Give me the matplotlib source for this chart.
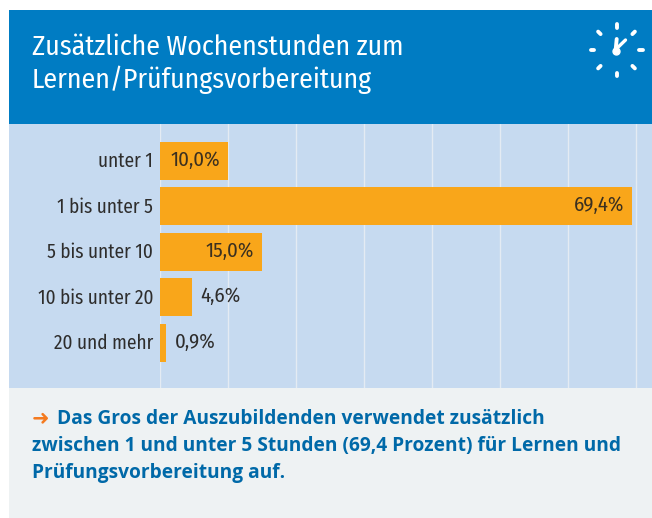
import matplotlib
matplotlib.use("Agg")
import matplotlib.pyplot as plt
from matplotlib.patches import Rectangle
from matplotlib.transforms import ScaledTranslation
from matplotlib import font_manager as fm
import numpy as np

categories = ["unter 1", "1 bis unter 5", "5 bis unter 10", "10 bis unter 20", "20 und mehr"]
values = [10.0, 69.4, 15.0, 4.6, 0.9]
value_labels = ["10,0%", "69,4%", "15,0%", "4,6%", "0,9%"]
title_lines = ["Zusätzliche Wochenstunden zum", "Lernen/Prüfungsvorbereitung"]
note_lines = ["Das Gros der Auszubildenden verwendet zusätzlich",
              "zwischen 1 und unter 5 Stunden (69,4 Prozent) für Lernen und",
              "Prüfungsvorbereitung auf."]

names = {f.name for f in fm.fontManager.ttflist}
narrow = next((n for n in ["Fira Sans Condensed", "Open Sans Condensed", "Roboto Condensed",
                           "Encode Sans Condensed", "Asap Condensed", "Liberation Sans"] if n in names), "Liberation Sans")

W, H = 652, 518
fig = plt.figure(figsize=(W/100, H/100), dpi=100, facecolor="white")
def fx(x): return x / W
def fy(y): return 1 - y / H
def band(y0, y1, c):
    fig.add_artist(Rectangle((fx(9), fy(y1)), 1 - fx(9), (y1 - y0) / H, transform=fig.transFigure, fc=c, ec="none", zorder=0))
band(10, 124, "#007CC3")
band(124, 388, "#C6DAF0")
band(388, 518, "#EEF2F3")

ax = fig.add_axes([fx(160), fy(388), (W - 160) / W, 264 / H])
ax.patch.set_alpha(0)
ax.set_xlim(-0.05, 72.3)
ax.set_ylim(4.99, -0.813)
ax.set_xticks(np.arange(0, 71, 10))
ax.set_xticklabels([])
ax.grid(axis="x", color="#E4EBF3", lw=1.0)
ax.set_axisbelow(True)
ax.tick_params(length=0)
for s in ax.spines.values():
    s.set_visible(False)
y = np.arange(len(values))
ax.barh(y, values, height=0.835, color="#F9A61A")
ax.set_yticks(y)
ax.set_yticklabels(categories, fontsize=13.9, family=narrow, color="#2E2D2C")
ax.tick_params(axis="y", pad=5)
shift = ScaledTranslation(0, 1.5 / 100, fig.dpi_scale_trans)
for lab in ax.get_yticklabels():
    lab.set_transform(lab.get_transform() + shift)
for i, (v, l) in enumerate(zip(values, value_labels)):
    if v > 8:
        ax.annotate(l, (v, i), xytext=(-6, 0.7), textcoords="offset points", ha="right", va="center",
                    fontsize=15, family=narrow, color="#3B3020")
    else:
        ax.annotate(l, (v, i), xytext=(6, 0.7), textcoords="offset points", ha="left", va="center",
                    fontsize=15, family=narrow, color="#2E2D2C")

for t, yy in zip(title_lines, [47, 79.5]):
    fig.text(fx(32), fy(yy), t, fontsize=20, family=narrow, weight="normal", color="white", va="center", ha="left")

for t, xx, yy in zip(note_lines, [57, 32, 32], [419, 446, 473]):
    fig.text(fx(xx), fy(yy), t, fontsize=13.75, family="Open Sans", weight="bold", color="#0069A8", va="center", ha="left")
fig.text(fx(32), fy(418), "\u279c", fontsize=15, family="DejaVu Sans", weight="bold", color="#F47B20", va="center", ha="left")

# clock icon
ov = fig.add_axes([0, 0, 1, 1])
ov.set_xlim(0, W); ov.set_ylim(H, 0); ov.axis("off"); ov.patch.set_alpha(0)
cx, cy = 616.5, 50
for a in np.arange(0, 360, 45):
    r = np.deg2rad(a)
    ov.plot([cx + 22.5*np.sin(r), cx + 26*np.sin(r)], [cy - 22.5*np.cos(r), cy - 26*np.cos(r)],
            color="white", lw=2.8, solid_capstyle="round")
ov.plot([cx - 0.8, cx + 0.2], [cy - 0.5, cy - 11], color="white", lw=2.8, solid_capstyle="round")
ov.plot([cx - 0.8, cx + 9], [cy - 0.5, cy - 10], color="white", lw=2.4, solid_capstyle="round")
ov.plot([cx - 0.8], [cy + 0.5], "o", color="white", ms=5)

fig.savefig("out.png", dpi=100, facecolor="white")
